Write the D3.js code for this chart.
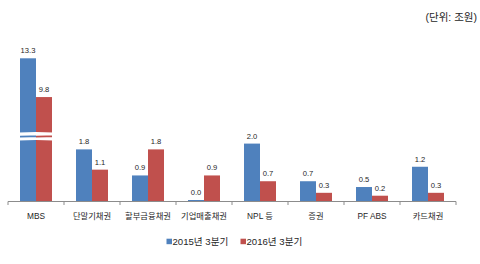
<!DOCTYPE html>
<html>
<head>
<meta charset="utf-8">
<script src="https://cdn.jsdelivr.net/npm/d3@7"></script>
<style>
  body { margin: 0; background: #fff; }
  text { font-family: "Liberation Sans", "Noto Sans CJK KR", sans-serif; fill: #262626; }
</style>
</head>
<body>
<div id="chart"></div>
<script>
// categories and values (단위: 조원)
const categories = ["MBS", "단말기채권", "할부금융채권", "기업매출채권", "NPL 등", "증권", "PF ABS", "카드채권"];
const seriesNames = ["2015년 3분기", "2016년 3분기"];
const values2015 = [13.3, 1.8, 0.9, 0.0, 2.0, 0.7, 0.5, 1.2];
const values2016 = [9.8, 1.1, 1.8, 0.9, 0.7, 0.3, 0.2, 0.3];
const colors = ["#4F81BD", "#C0504D"];

const width = 480, height = 264;
const baseY = 201.5;

const svg = d3.select("#chart").append("svg")
    .attr("width", width)
    .attr("height", height);

const x0 = d3.scaleBand()
    .domain(categories)
    .range([8, 456]);

const x1 = d3.scaleBand()
    .domain(seriesNames)
    .range([0, x0.bandwidth()])
    .paddingOuter(0.75);

// broken axis: lower part 0~2.1, upper part 6.6~13.3
const y = d3.scaleLinear()
    .domain([0, 2.1, 6.6, 13.3])
    .range([baseY, 140.7, 132.5, 58.3]);

const rows = categories.map(function(c, i){
    return { cat: c, vals: [values2015[i], values2016[i]] };
});

const groups = svg.selectAll("g.cat")
    .data(rows)
    .enter()
    .append("g")
    .attr("class", "cat")
    .attr("transform", function(d){ return "translate(" + x0(d.cat) + ",0)"; });

groups.selectAll("rect")
    .data(function(d){ return d.vals.map(function(v, j){ return { v: v, s: seriesNames[j], j: j }; }); })
    .enter()
    .append("rect")
    .attr("x", function(d){ return x1(d.s); })
    .attr("width", x1.bandwidth())
    .attr("y", function(d){ return Math.min(y(d.v), baseY - 1.5); })
    .attr("height", function(d){ return Math.max(baseY - y(d.v), 1.5); })
    .attr("fill", function(d){ return colors[d.j]; });

groups.selectAll("text.val")
    .data(function(d){ return d.vals.map(function(v, j){ return { v: v, s: seriesNames[j] }; }); })
    .enter()
    .append("text")
    .attr("class", "val")
    .attr("x", function(d){ return x1(d.s) + x1.bandwidth() / 2; })
    .attr("y", function(d){ return Math.min(y(d.v), baseY - 1.5) - 5; })
    .attr("text-anchor", "middle")
    .style("font-size", "7.6px")
    .text(function(d){ return d.v.toFixed(1); });

// break mark on the MBS bars
const bx = x0(categories[0]) + x1(seriesNames[0]) - 1;
const bw = x1.bandwidth() * 2 + 2;
svg.append("path")
    .attr("d", "M" + bx + ",132.6 Q" + (bx + bw / 2) + ",131.2 " + (bx + bw) + ",132.6 L" + (bx + bw) + ",140.6 Q" + (bx + bw / 2) + ",139.2 " + bx + ",140.6 Z")
    .attr("fill", "#fff");
seriesNames.forEach(function(s, j){
    const sx = x0(categories[0]) + x1(s);
    const sw = x1.bandwidth();
    svg.append("path")
        .attr("d", "M" + sx + ",135.8 Q" + (sx + sw / 2) + ",135.2 " + (sx + sw) + ",135.5 L" + (sx + sw) + ",137.3 Q" + (sx + sw / 2) + ",137.0 " + sx + ",137.6 Z")
        .attr("fill", colors[j]);
});

// x axis
const xAxis = d3.axisBottom(x0).tickSize(0).tickPadding(12);
const axisG = svg.append("g")
    .attr("transform", "translate(0," + baseY + ")")
    .call(xAxis);
axisG.select(".domain").attr("stroke", "#8c8c8c").attr("d", "M8,0H456");
axisG.selectAll(".tick text")
    .style("font-size", "8.3px")
    .attr("fill", "#262626")
    .style("font-family", "\"Liberation Sans\", \"Noto Sans CJK KR\", sans-serif");

// boundary ticks between categories
const bounds = categories.map(function(c){ return x0(c); }).concat([x0.range()[1]]);
svg.selectAll("line.bound")
    .data(bounds)
    .enter()
    .append("line")
    .attr("class", "bound")
    .attr("x1", function(d){ return d; })
    .attr("x2", function(d){ return d; })
    .attr("y1", baseY)
    .attr("y2", baseY + 3.5)
    .attr("stroke", "#8c8c8c")
    .attr("stroke-width", 1);

// legend
const legendX = [166.5, 240.5];
const legend = svg.selectAll("g.legend")
    .data(seriesNames)
    .enter()
    .append("g")
    .attr("class", "legend")
    .attr("transform", function(d, i){ return "translate(" + legendX[i] + ",241.5)"; });
legend.append("rect")
    .attr("x", 0)
    .attr("y", -2.8)
    .attr("width", 5.5)
    .attr("height", 5.5)
    .attr("fill", function(d, i){ return colors[i]; });
legend.append("text")
    .attr("x", 6)
    .attr("y", 3.4)
    .style("font-size", "9.6px")
    .text(function(d){ return d; });

// unit label
svg.append("text")
    .attr("x", 477)
    .attr("y", 20.5)
    .attr("text-anchor", "end")
    .style("font-size", "10.5px")
    .text("(단위: 조원)");
</script>
</body>
</html>
